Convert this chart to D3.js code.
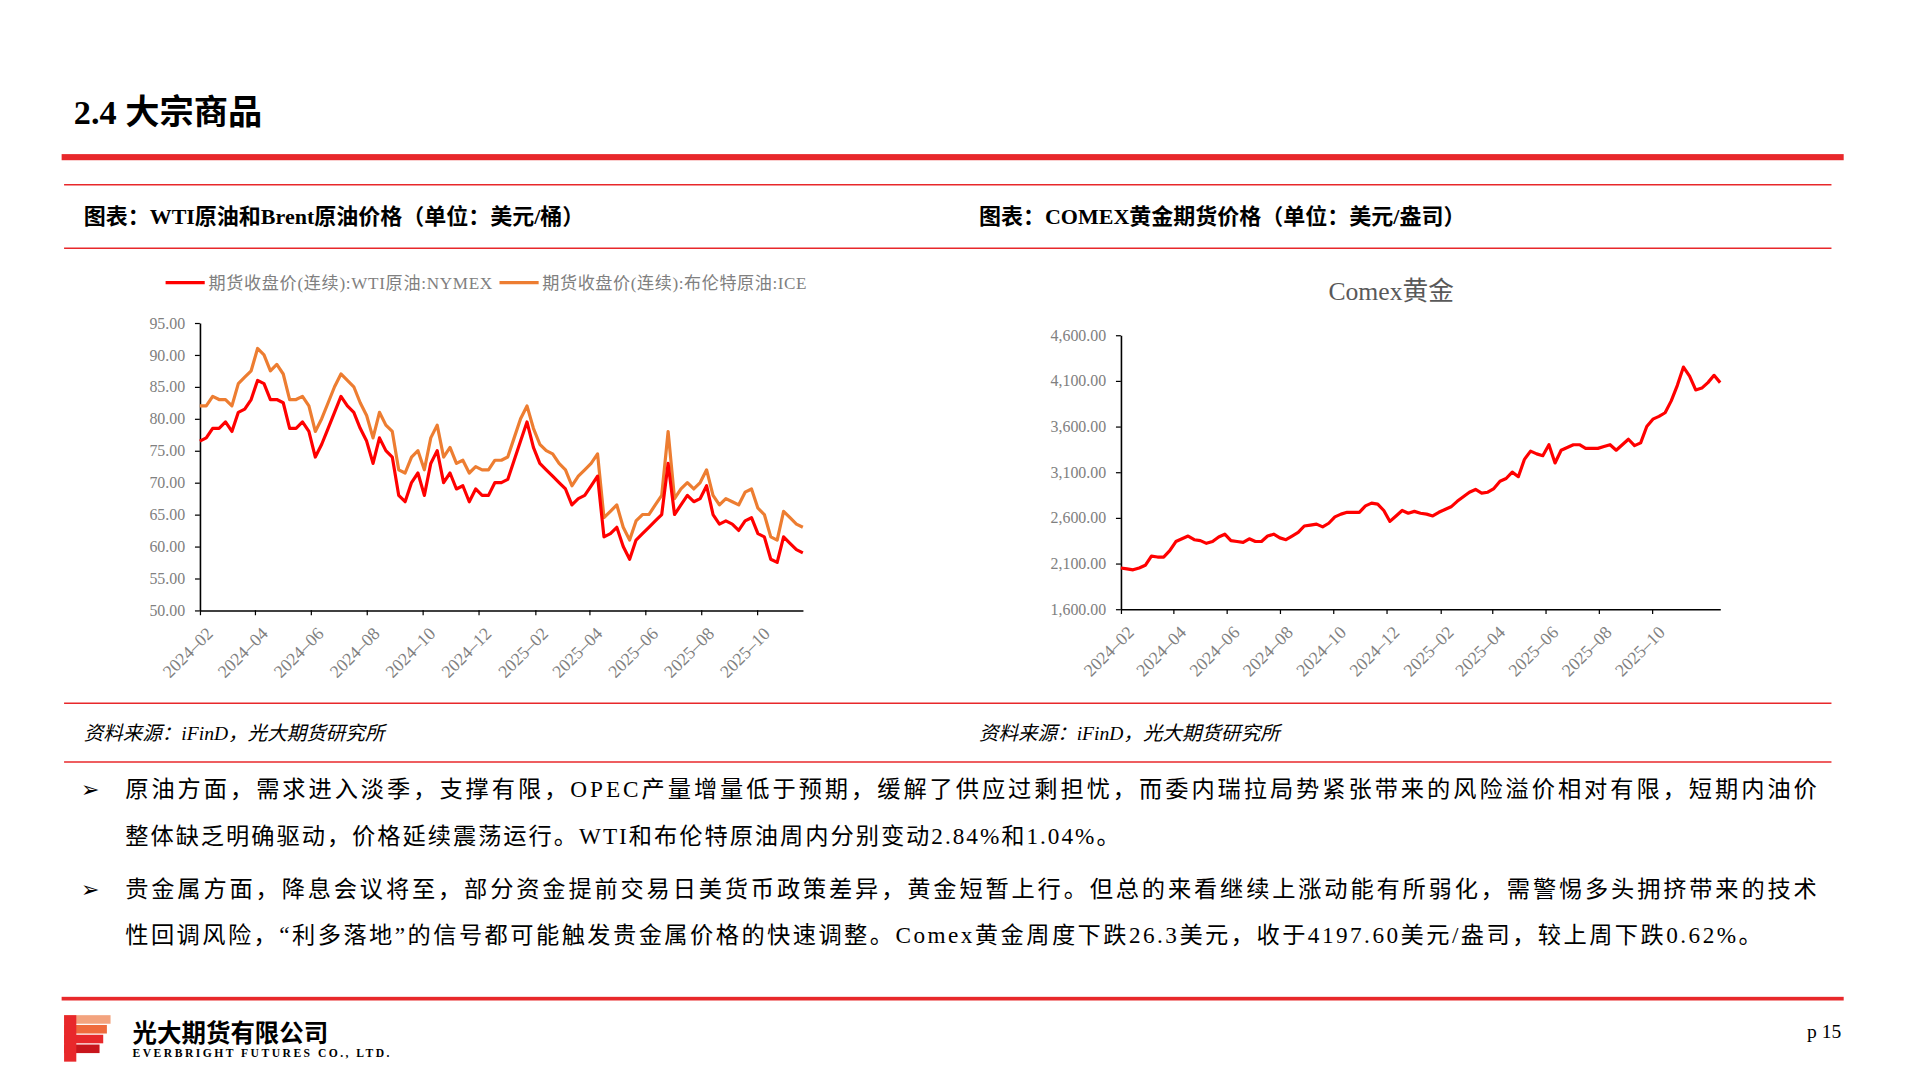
<!DOCTYPE html>
<html>
<head>
<meta charset="utf-8">
<script src="https://cdn.jsdelivr.net/npm/d3@7"></script>
<style>
  body { margin: 0; background: #fff; }
  svg { display: block; }
  text { font-family: "Liberation Serif", "Noto Sans CJK SC", serif; }
</style>
</head>
<body>
<svg id="page" width="1920" height="1080" viewBox="0 0 1569 883"></svg>
<script>
// weekly closes, starting first week of Feb 2024
var wti = [76.5,77,78.5,78.5, 79.5,78,81,81.5,83, 86,85.5,83,83, 82.5,78.5,78.5,79.5,78,
  74,76,78.5,81, 83.5,82,81,78.5,76.5, 73,77,75,74, 68,67,70,71.5,68, 73,75,70,71.5,
  69,69.5,67,69, 68,68,70,70,70.5, 73.5,76.5,79.5,75.5, 73,72,71,70, 69,66.5,67.5,68,69.5,
  71,61.5,62,63, 60,58,61,62, 63,64,65,73, 65,66.5,68,67,67.5, 69.5,65,63.5,64,
  63.5,62.5,64,64.5, 62,61.5,58,57.5,61.5, 60.5,59.5,59];
var brent = [82,82,83.5,83, 83,82,85.5,86.5,87.5, 91,90,87.5,88.5, 87,83,83,83.5,82,
  78,80,82.5,85, 87,86,85,82.5,80.5, 77,81,79,78, 72,71.5,74,75,72, 77,79,74,75.5,
  73,73.5,71.5,72.5, 72,72,73.5,73.5,74, 77,80,82,78.5, 76,75,74.5,73, 72,69.5,71,72,73,
  74.5,64.5,65.5,66.5, 63,61,64,65, 65,66.5,68,78, 67.5,69,70,69,70, 72,68,66.5,67.5,
  67,66.5,68.5,69, 66,65,61.5,61,65.5, 64.5,63.5,63];
var gold = [2050,2040,2030,2050, 2080,2180,2170,2170,2240, 2340,2370,2400,2360,2350,
  2320,2340,2390,2420,2350, 2340,2330,2370,2340, 2340,2400,2420,2380,2360,
  2400,2440,2510,2520,2530, 2500,2540,2610,2640,2660, 2660,2660,2730,2760,2750,
  2680,2560,2620,2680, 2650,2670,2650,2640,2620, 2660,2690,2720,2780,
  2830,2880,2910,2870, 2880,2920,3000,3030,3100, 3050,3240,3330,3300,
  3280,3400,3200,3340, 3370,3400,3400,3360, 3360,3360,3380,3400,3340,
  3400,3460,3390,3420, 3600,3680,3710,3750, 3880,4050,4250,4150,4000,
  4020,4080,4160,4080];
var oilTicks = [50,55,60,65,70,75,80,85,90,95];
var goldTicks = [1600,2100,2600,3100,3600,4100,4600];
var monthTicks = ["2024-02","2024-04","2024-06","2024-08","2024-10","2024-12",
  "2025-02","2025-04","2025-06","2025-08","2025-10"];
var bullets = [
  ["原油方面，需求进入淡季，支撑有限，OPEC产量增量低于预期，缓解了供应过剩担忧，而委内瑞拉局势紧张带来的风险溢价相对有限，短期内油价",
   "整体缺乏明确驱动，价格延续震荡运行。WTI和布伦特原油周内分别变动2.84%和1.04%。"],
  ["贵金属方面，降息会议将至，部分资金提前交易日美货币政策差异，黄金短暂上行。但总的来看继续上涨动能有所弱化，需警惕多头拥挤带来的技术",
   "性回调风险，“利多落地”的信号都可能触发贵金属价格的快速调整。Comex黄金周度下跌26.3美元，收于4197.60美元/盎司，较上周下跌0.62%。"]
];
var bulletLens = [[1383, 813], [1383, 1338]];

var svg = d3.select("#page");
var red = "#e8282b";
var start = new Date(2024, 1, 1);
function weekDate(i){ return d3.timeDay.offset(start, 7*i); }
var parseM = d3.timeParse("%Y-%m");

// page frame
svg.append("text").attr("x",60).attr("y",101).attr("font-size",28).attr("font-weight","bold")
  .text("2.4 大宗商品");
svg.append("rect").attr("x",50).attr("y",126).attr("width",1457).attr("height",5).attr("fill",red);
[151,203,575,623].forEach(function(y){
  svg.append("line").attr("x1",52).attr("x2",1497).attr("y1",y).attr("y2",y)
    .attr("stroke",red).attr("stroke-width",1.3);
});
svg.append("text").attr("x",68).attr("y",183).attr("font-size",18).attr("font-weight","bold")
  .text("图表：WTI原油和Brent原油价格（单位：美元/桶）");
svg.append("text").attr("x",800).attr("y",183).attr("font-size",18).attr("font-weight","bold")
  .text("图表：COMEX黄金期货价格（单位：美元/盎司）");
[68,800].forEach(function(x){
  svg.append("text").attr("x",x).attr("y",605).attr("font-size",16).attr("font-style","italic")
    .text("资料来源：iFinD，光大期货研究所");
});

function drawChart(o){
  var x = d3.scaleTime().domain([start, o.end]).range([o.x0, o.x1]);
  var y = d3.scaleLinear().domain(o.dom).range([o.y1, o.y0]);
  var g = svg.append("g");
  var ya = g.append("g").attr("transform","translate("+o.x0+",0)")
    .call(d3.axisLeft(y).tickValues(o.ticks).tickSize(4).tickSizeOuter(0)
      .tickFormat(function(d){ return o.fmt(d); }));
  var xa = g.append("g").attr("transform","translate(0,"+o.y1+")")
    .call(d3.axisBottom(x).tickValues(monthTicks.map(parseM)).tickSize(4).tickSizeOuter(0)
      .tickFormat(d3.timeFormat("%Y\u2013%m")));
  [ya, xa].forEach(function(a){
    a.select(".domain").attr("stroke","#000").attr("stroke-width",1.3);
    a.selectAll(".tick line").attr("stroke","#000");
    a.selectAll("text").attr("fill","#808080").attr("font-size",13)
      .attr("font-family","Liberation Serif, serif");
  });
  ya.selectAll("text").attr("x",-12);
  xa.selectAll("text").attr("text-anchor","end").attr("dy","0.3em").attr("font-size",14.5)
    .attr("transform","translate(3,12) rotate(-45)");
  o.series.forEach(function(s){
    g.append("path").datum(s.values).attr("fill","none").attr("stroke",s.color)
      .attr("stroke-width",2.6).attr("stroke-linejoin","round")
      .attr("d", d3.line().x(function(d,i){ return x(weekDate(i)); }).y(function(d){ return y(d); }));
  });
}

drawChart({x0:163, x1:656, y0:264, y1:499, dom:[50,95], ticks:oilTicks,
  end: weekDate(wti.length-1), fmt: d3.format(".2f"),
  series:[{values:brent,color:"#ed7d31"},{values:wti,color:"#ff0000"}]});
drawChart({x0:916, x1:1406, y0:274, y1:498, dom:[1600,4600], ticks:goldTicks,
  end: weekDate(gold.length-1), fmt: d3.format(",.2f"),
  series:[{values:gold,color:"#ff0000"}]});

// oil legend
[[135,"#ff0000","期货收盘价(连续):WTI原油:NYMEX",232],[408,"#ed7d31","期货收盘价(连续):布伦特原油:ICE",216]].forEach(function(l){
  svg.append("line").attr("x1",l[0]).attr("x2",l[0]+32).attr("y1",231).attr("y2",231)
    .attr("stroke",l[1]).attr("stroke-width",2.6);
  svg.append("text").attr("x",l[0]+35).attr("y",236).attr("font-size",14).attr("fill","#808080")
    .attr("textLength",l[3]).text(l[2]);
});
svg.append("text").attr("x",1137).attr("y",245).attr("text-anchor","middle").attr("font-size",21)
  .attr("fill","#595959").text("Comex黄金");

// bullets
bullets.forEach(function(b,k){
  var y0 = 652 + k*81;
  svg.append("text").attr("x",66).attr("y",y0).attr("font-size",18).text("➢");
  b.forEach(function(line,j){
    svg.append("text").attr("x",102).attr("y",y0 + j*38).attr("font-size",19)
      .attr("textLength", bulletLens[k][j]).attr("lengthAdjust","spacing").text(line);
  });
});

// footer
svg.append("rect").attr("x",50).attr("y",815).attr("width",1457).attr("height",3).attr("fill",red);
var logo = svg.append("g");
[["#f3a37e",830],["#ef6a3c",838],["#e8282b",846],["#c8161d",854]].forEach(function(r,i){
  logo.append("rect").attr("x",52).attr("y",r[1]).attr("width",38-i*3).attr("height",7).attr("fill",r[0]);
});
logo.append("rect").attr("x",52).attr("y",830).attr("width",10).attr("height",38).attr("fill","#e8282b");
svg.append("text").attr("x",108).attr("y",852).attr("font-size",20).attr("font-weight","bold")
  .attr("font-family","Noto Sans CJK SC").text("光大期货有限公司");
svg.append("text").attr("x",108).attr("y",864).attr("font-size",9.5).attr("font-weight","bold")
  .attr("font-family","Liberation Sans").attr("textLength",210).text("EVERBRIGHT FUTURES CO., LTD.");
svg.append("text").attr("x",1505).attr("y",849).attr("text-anchor","end").attr("font-size",16).text("p 15");
</script>
</body>
</html>
